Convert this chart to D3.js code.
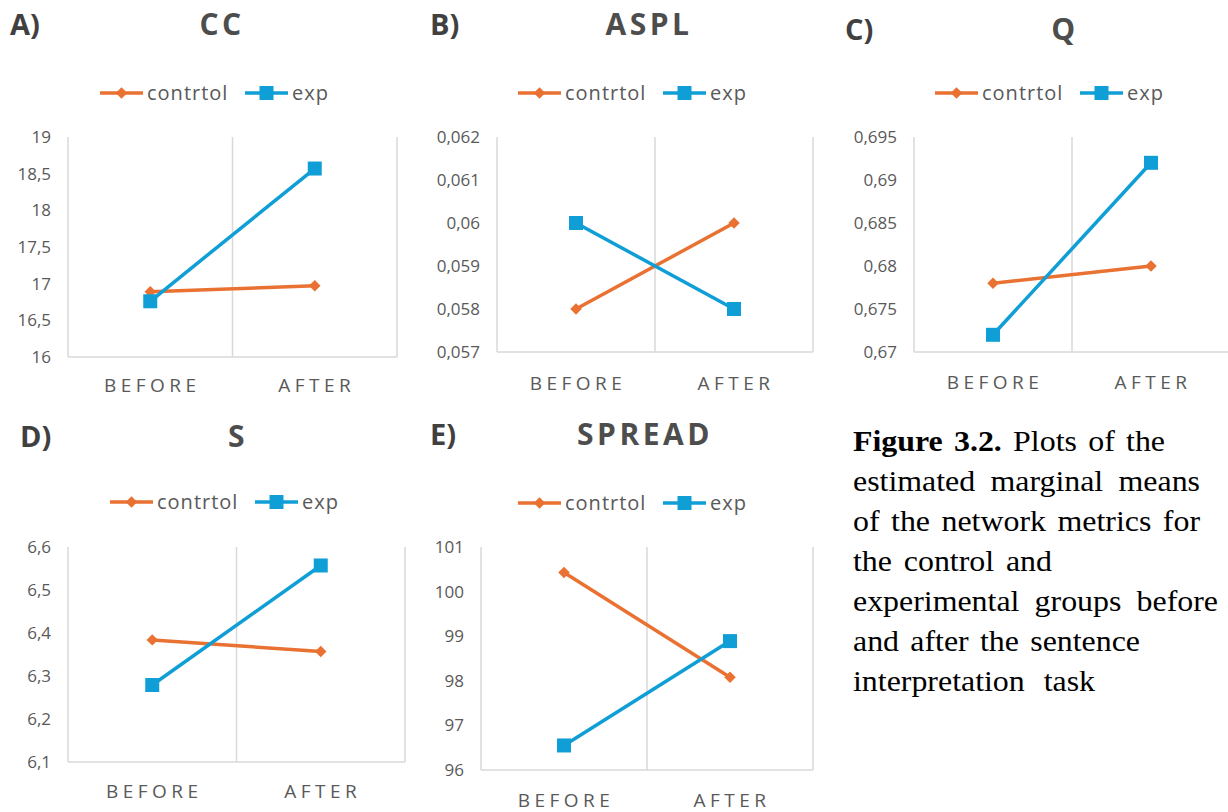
<!DOCTYPE html>
<html>
<head>
<meta charset="utf-8">
<script src="https://cdn.jsdelivr.net/npm/d3@7"></script>
<style>
  body { margin: 0; background: #fff; }
  svg { display: block; }
</style>
</head>
<body>
<svg width="1228" height="812"></svg>
<script>
// categories and series
const categories = ["BEFORE", "AFTER"];
const seriesNames = ["contrtol", "exp"];

// estimated marginal means
const ccControl = [16.89, 16.97];
const ccExp = [16.76, 18.57];
const asplControl = [0.058, 0.06];
const asplExp = [0.06, 0.058];
const qControl = [0.678, 0.68];
const qExp = [0.672, 0.692];
const sControl = [6.384, 6.357];
const sExp = [6.279, 6.557];
const spreadControl = [100.43, 98.08];
const spreadExp = [96.55, 98.89];

// y tick values
const ccTicks = [16, 16.5, 17, 17.5, 18, 18.5, 19];
const asplTicks = [0.057, 0.058, 0.059, 0.06, 0.061, 0.062];
const qTicks = [0.67, 0.675, 0.68, 0.685, 0.69, 0.695];
const sTicks = [6.1, 6.2, 6.3, 6.4, 6.5, 6.6];
const spreadTicks = [96, 97, 98, 99, 100, 101];

const panelTags = ["A)", "B)", "C)", "D)", "E)"];
const panelTitles = ["CC", "ASPL", "Q", "S", "SPREAD"];

const captionLines = [
  ["Figure 3.2.", " Plots of the"],
  ["", "estimated marginal means"],
  ["", "of the network metrics for"],
  ["", "the control and"],
  ["", "experimental groups before"],
  ["", "and after the sentence"],
  ["", "interpretation task"],
];
// right end of each caption line (justified look)
const captionEnds = [1165, 1200, 1200, 1052, 1218, 1140, 1095];

const colors = ["#E97132", "#0F9ED5"];
const gridColor = "#d9d9d9";
const textColor = "#595959";

// layout of each panel
const layout = [
  { x0: 68, x1: 397, y0: 137, y1: 357, tag: [10, 25], title: [220, 24], legX: 100, legY: 93, labY: 385 },
  { x0: 497, x1: 813, y0: 137, y1: 352, tag: [430, 25], title: [647, 24], legX: 518, legY: 93, labY: 383 },
  { x0: 914, x1: 1230, y0: 137, y1: 352, tag: [845, 30], title: [1063, 29], legX: 935, legY: 93, labY: 382 },
  { x0: 68, x1: 405, y0: 547, y1: 762, tag: [20, 437], title: [236, 436], legX: 110, legY: 502, labY: 791 },
  { x0: 481, x1: 813, y0: 547, y1: 770, tag: [430, 435], title: [643, 434], legX: 518, legY: 503, labY: 800 },
];

const panelData = [
  [ccControl, ccExp, ccTicks],
  [asplControl, asplExp, asplTicks],
  [qControl, qExp, qTicks],
  [sControl, sExp, sTicks],
  [spreadControl, spreadExp, spreadTicks],
];

const locale = d3.formatLocale({ decimal: ",", thousands: ".", grouping: [3], currency: ["", ""] });
const fmt = locale.format("~f");

const svg = d3.select("svg");
const font = "'Open Sans', sans-serif";

const diamond = (s) => d3.symbol(d3.symbolSquare, s)();

const drawPanel = (p, idx) => {
  const [ctrl, exp, ticks] = panelData[idx];
  const g = svg.append("g");

  const x = d3.scaleBand().domain(categories).range([p.x0, p.x1]);
  const y = d3
    .scaleLinear()
    .domain([d3.min(ticks), d3.max(ticks)])
    .range([p.y1, p.y0]);

  // vertical gridlines between categories
  const bounds = categories.map((c) => x(c)).concat([p.x1]);
  g.selectAll(".vgrid")
    .data(bounds)
    .join("line")
    .attr("x1", (d) => d)
    .attr("x2", (d) => d)
    .attr("y1", p.y0)
    .attr("y2", p.y1)
    .attr("stroke", gridColor)
    .attr("stroke-width", 1.5);

  // bottom axis line
  g.append("line")
    .attr("x1", p.x0)
    .attr("x2", p.x1)
    .attr("y1", p.y1)
    .attr("y2", p.y1)
    .attr("stroke", gridColor)
    .attr("stroke-width", 1.5);

  // y axis
  const yAxis = d3.axisLeft(y).tickValues(ticks).tickFormat(fmt).tickSize(0).tickPadding(17);
  const ya = g.append("g").attr("transform", `translate(${p.x0},0)`).call(yAxis);
  ya.select(".domain").remove();
  ya.selectAll("text")
    .attr("fill", textColor)
    .style("font-family", font)
    .style("font-size", "17px");

  // x labels
  g.selectAll(".xlab")
    .data(categories)
    .join("text")
    .attr("x", (d) => x(d) + x.bandwidth() / 2 + 2)
    .attr("y", p.labY)
    .attr("dy", "0.35em")
    .attr("text-anchor", "middle")
    .attr("fill", textColor)
    .style("font-family", font)
    .style("font-size", "19px")
    .style("letter-spacing", "4.5px")
    .text((d) => d);

  // lines and markers
  const line = d3
    .line()
    .x((d, i) => x(categories[i]) + x.bandwidth() / 2)
    .y((d) => y(d));

  [ctrl, exp].forEach((vals, si) => {
    g.append("path")
      .datum(vals)
      .attr("d", line)
      .attr("fill", "none")
      .attr("stroke", colors[si])
      .attr("stroke-width", 3.5);
    g.selectAll(null)
      .data(vals)
      .join("path")
      .attr("d", si === 0 ? diamond(66) : diamond(196))
      .attr("fill", colors[si])
      .attr(
        "transform",
        (d, i) =>
          `translate(${x(categories[i]) + x.bandwidth() / 2},${y(d)})` + (si === 0 ? " rotate(45)" : "")
      );
  });

  // legend
  seriesNames.forEach((name, si) => {
    const lx = p.legX + si * 145;
    g.append("line")
      .attr("x1", lx)
      .attr("x2", lx + 43)
      .attr("y1", p.legY)
      .attr("y2", p.legY)
      .attr("stroke", colors[si])
      .attr("stroke-width", 3.5);
    g.append("path")
      .attr("d", si === 0 ? diamond(66) : diamond(196))
      .attr("fill", colors[si])
      .attr("transform", `translate(${lx + 21.5},${p.legY})` + (si === 0 ? " rotate(45)" : ""));
    g.append("text")
      .attr("x", lx + 47)
      .attr("y", p.legY)
      .attr("dy", "0.35em")
      .attr("fill", textColor)
      .style("font-family", font)
      .style("font-size", "20px")
      .style("letter-spacing", "1px")
      .text(name);
  });

  // tag and title
  g.append("text")
    .attr("x", p.tag[0])
    .attr("y", p.tag[1])
    .attr("dy", "0.35em")
    .attr("fill", "#404040")
    .style("font-family", font)
    .style("font-weight", "bold")
    .style("font-size", "29px")
    .text(panelTags[idx]);

  g.append("text")
    .attr("x", p.title[0] + 2)
    .attr("y", p.title[1])
    .attr("dy", "0.35em")
    .attr("text-anchor", "middle")
    .attr("fill", "#4d4d4d")
    .style("font-family", font)
    .style("font-weight", "bold")
    .style("font-size", "30px")
    .style("letter-spacing", "3.5px")
    .text(panelTitles[idx]);
};

layout.forEach(drawPanel);

// caption: glyphs a bit wider than Times, each line spread to its right end
const capX = 853;
const stretch = 1.1;
const capG = svg.append("g").attr("transform", `translate(${capX},0) scale(${stretch},1)`);
captionLines.forEach((ln, i) => {
  const t = capG
    .append("text")
    .attr("x", 0)
    .attr("y", 451 + i * 40)
    .attr("fill", "#000")
    .style("font-family", "'Liberation Serif', 'Times New Roman', serif")
    .style("font-size", "29px");
  if (ln[0]) t.append("tspan").style("font-weight", "bold").text(ln[0]);
  t.append("tspan").text(ln[1]);
  const natural = t.node().getComputedTextLength();
  const spaces = (ln[0] + ln[1]).trim().split(" ").length - 1;
  if (spaces > 0) {
    const extra = Math.max(0, ((captionEnds[i] - capX) / stretch - natural) / spaces);
    t.style("word-spacing", `${extra}px`);
  }
});
</script>
</body>
</html>
